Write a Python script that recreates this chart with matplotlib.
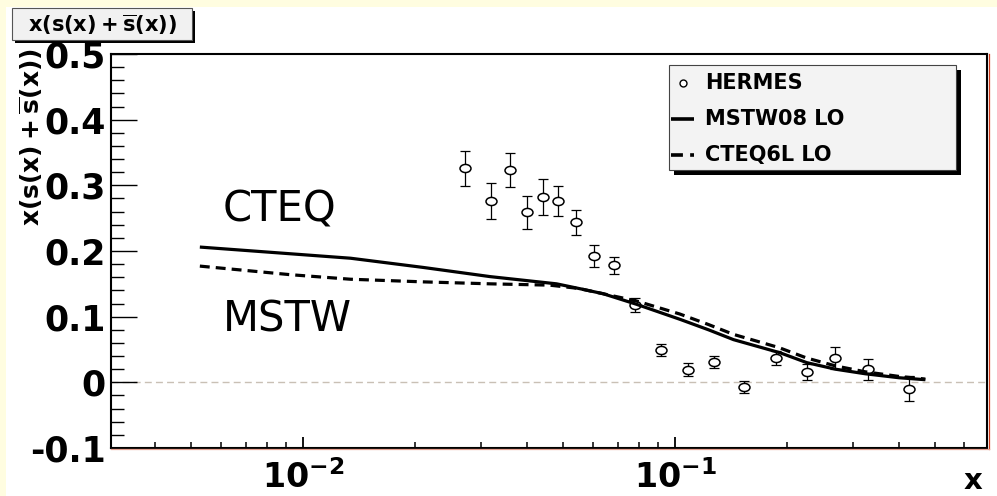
import matplotlib
matplotlib.use("Agg")
import matplotlib.pyplot as plt
from matplotlib.patches import Rectangle
from matplotlib.lines import Line2D
from matplotlib.path import Path
from matplotlib.ticker import MultipleLocator, LogLocator, NullFormatter

plt.rcParams['font.family'] = ['DejaVu Sans']
plt.rcParams['mathtext.fontset'] = 'custom'
for key in ('rm', 'it', 'bf', 'sf'):
    plt.rcParams['mathtext.' + key] = 'DejaVu Sans:bold'

# HERMES measurement of x(s + sbar)
hermes_x = [0.0272, 0.032, 0.036, 0.0399, 0.044, 0.0484, 0.054, 0.0605, 0.0687,
            0.0781, 0.0917, 0.108, 0.1276, 0.153, 0.187, 0.226, 0.27, 0.33, 0.425]
hermes_y = [0.326, 0.276, 0.323, 0.259, 0.282, 0.276, 0.244, 0.192, 0.178,
            0.118, 0.049, 0.019, 0.031, -0.007, 0.037, 0.016, 0.037, 0.020, -0.010]
hermes_err = [0.027, 0.027, 0.026, 0.025, 0.027, 0.023, 0.019, 0.017, 0.013,
              0.011, 0.009, 0.010, 0.009, 0.009, 0.010, 0.012, 0.017, 0.016, 0.019]

# PDF predictions
mstw_x = [0.00527, 0.0134, 0.021, 0.0318, 0.048, 0.0561, 0.064, 0.0786,
          0.103, 0.123, 0.1436, 0.1916, 0.226, 0.27, 0.325, 0.40, 0.471]
mstw_y = [0.206, 0.189, 0.175, 0.161, 0.150, 0.142, 0.135, 0.119,
          0.096, 0.080, 0.065, 0.045, 0.030, 0.020, 0.013, 0.007, 0.004]
cteq_x = [0.00527, 0.0092, 0.0134, 0.021, 0.0318, 0.046, 0.055, 0.0786,
          0.103, 0.123, 0.1436, 0.19, 0.226, 0.27, 0.325, 0.40, 0.471]
cteq_y = [0.177, 0.164, 0.157, 0.153, 0.150, 0.148, 0.143, 0.124,
          0.104, 0.088, 0.073, 0.053, 0.037, 0.025, 0.016, 0.009, 0.005]

y_ticks = [-0.1, 0.0, 0.1, 0.2, 0.3, 0.4, 0.5]
y_tick_labels = ['-0.1', '0', '0.1', '0.2', '0.3', '0.4', '0.5']
x_ticks = [0.01, 0.1]
x_tick_labels = [r'$10^{-2}$', r'$10^{-1}$']
legend_labels = ['HERMES', 'MSTW08 LO', 'CTEQ6L LO']

W, H = 997, 496


def fx(px):
    return px / W


def fy(py):
    return 1 - py / H


fig = plt.figure(figsize=(W / 100, H / 100), dpi=100)
fig.patch.set_facecolor('white')

# pale yellow slide margin along the top and left edges
fig.add_artist(Rectangle((0, fy(7)), 1, 7 / H, transform=fig.transFigure,
                         facecolor='#fffde0', edgecolor='none', zorder=0))
fig.add_artist(Rectangle((0, 0), fx(6), 1, transform=fig.transFigure,
                         facecolor='#fffde0', edgecolor='none', zorder=0))

ax = fig.add_axes([fx(111), fy(448), fx(987) - fx(111), fy(54) - fy(448)])
ax.set_xscale('log')
ax.set_xlim(0.00304, 0.69)
ax.set_ylim(-0.1, 0.5)

for side in ('left', 'top', 'right', 'bottom'):
    ax.spines[side].set_linewidth(1.5)
    ax.spines[side].set_color('black')

# zero reference line
ax.axhline(0, color='#c9c0b5', lw=1.0, dashes=(5, 3), zorder=1)

# data points with error bars, drawn as slightly wide open ellipses
circ = Path.unit_circle()
ellipse = Path(circ.vertices * [1.35, 1.0], circ.codes)
ax.errorbar(hermes_x, hermes_y, yerr=hermes_err, fmt='none', ecolor='black',
            elinewidth=0.9, capsize=3.5, capthick=0.9, zorder=3)
ax.plot(hermes_x, hermes_y, linestyle='none', marker=ellipse, ms=7.9,
        mfc='white', mec='black', mew=1.1, zorder=4)

# model curves
ax.plot(mstw_x, mstw_y, color='black', lw=2.3, zorder=5, solid_capstyle='butt')
ax.plot(cteq_x, cteq_y, color='black', lw=2.3, dashes=(3.1, 1.9), zorder=5)

# hand-written style annotations
ax.text(0.00608, 0.245, 'CTEQ', fontsize=30, ha='left', va='baseline', zorder=6)
ax.text(0.00608, 0.077, 'MSTW', fontsize=30, ha='left', va='baseline', zorder=6)

# ticks
ax.set_yticks(y_ticks)
ax.set_yticklabels(y_tick_labels, fontweight='bold')
ax.yaxis.set_minor_locator(MultipleLocator(0.02))
ax.set_xticks(x_ticks)
ax.set_xticklabels(x_tick_labels)
ax.xaxis.set_minor_locator(LogLocator(base=10, subs=range(2, 10)))
ax.xaxis.set_minor_formatter(NullFormatter())
ax.tick_params(axis='y', which='major', direction='in', length=19, width=1,
               labelsize=25, pad=4, right=False)
ax.tick_params(axis='y', which='minor', direction='in', length=9, width=1,
               right=False)
ax.tick_params(axis='x', which='major', direction='in', length=8, width=1.3,
               labelsize=24, pad=9, top=False)
ax.tick_params(axis='x', which='minor', direction='in', length=4.3, width=1.1,
               top=False)

# thin red frame edges on the right and bottom
fig.add_artist(Line2D([fx(988.5), fx(988.5)], [fy(449), fy(54)], color='#d03a1a',
                      lw=0.9, transform=fig.transFigure))
fig.add_artist(Line2D([fx(111), fx(988.5)], [fy(449.3), fy(449.3)], color='#e6a090',
                      lw=0.9, transform=fig.transFigure))

# axis titles
fig.text(fx(31), fy(137), r'$x(s(x)+\overline{s}(x))$', rotation=90,
         fontsize=18, ha='center', va='center')
fig.text(fx(973), fy(481), 'x', fontsize=21, fontweight='bold',
         ha='center', va='center')

# histogram title box with shadow
fig.add_artist(Rectangle((fx(15), fy(43)), fx(192) - fx(12), fy(8) - fy(40),
                         transform=fig.transFigure, facecolor='black',
                         edgecolor='none', zorder=5))
fig.add_artist(Rectangle((fx(12), fy(40)), fx(192) - fx(12), fy(8) - fy(40),
                         transform=fig.transFigure, facecolor='#f1f1f1',
                         edgecolor='#555555', lw=0.8, zorder=6))
fig.text(fx(102), fy(25), r'$x(s(x) + \overline{s}(x))$', fontsize=15,
         ha='center', va='center', zorder=7)

# legend box with shadow
lx0, ly0, lx1, ly1 = 669, 65, 956, 170
fig.add_artist(Rectangle((fx(lx0 + 5), fy(ly1 + 5)), fx(lx1) - fx(lx0),
                         fy(ly0) - fy(ly1), transform=fig.transFigure,
                         facecolor='black', edgecolor='none', zorder=7))
fig.add_artist(Rectangle((fx(lx0), fy(ly1)), fx(lx1) - fx(lx0),
                         fy(ly0) - fy(ly1), transform=fig.transFigure,
                         facecolor='#f3f3f3', edgecolor='#444444', lw=0.8,
                         zorder=8))
rows = [82.7, 119.3, 155.0]
fig.add_artist(Line2D([fx(683)], [fy(rows[0])], linestyle='none', marker='o',
                      ms=5, mfc='white', mec='black', mew=1.0,
                      transform=fig.transFigure, zorder=9))
fig.add_artist(Line2D([fx(671), fx(694)], [fy(rows[1])] * 2, color='black',
                      lw=2.6, solid_capstyle='butt',
                      transform=fig.transFigure, zorder=9))
fig.add_artist(Line2D([fx(671), fx(694)], [fy(rows[2])] * 2, color='black',
                      lw=2.6, dashes=(3.3, 2.0), dash_capstyle='butt',
                      transform=fig.transFigure, zorder=9))
for label, ry in zip(legend_labels, rows):
    fig.text(fx(705), fy(ry), label, fontsize=15, fontweight='bold',
             ha='left', va='center', zorder=9)

fig.savefig('out.png', dpi=100)
